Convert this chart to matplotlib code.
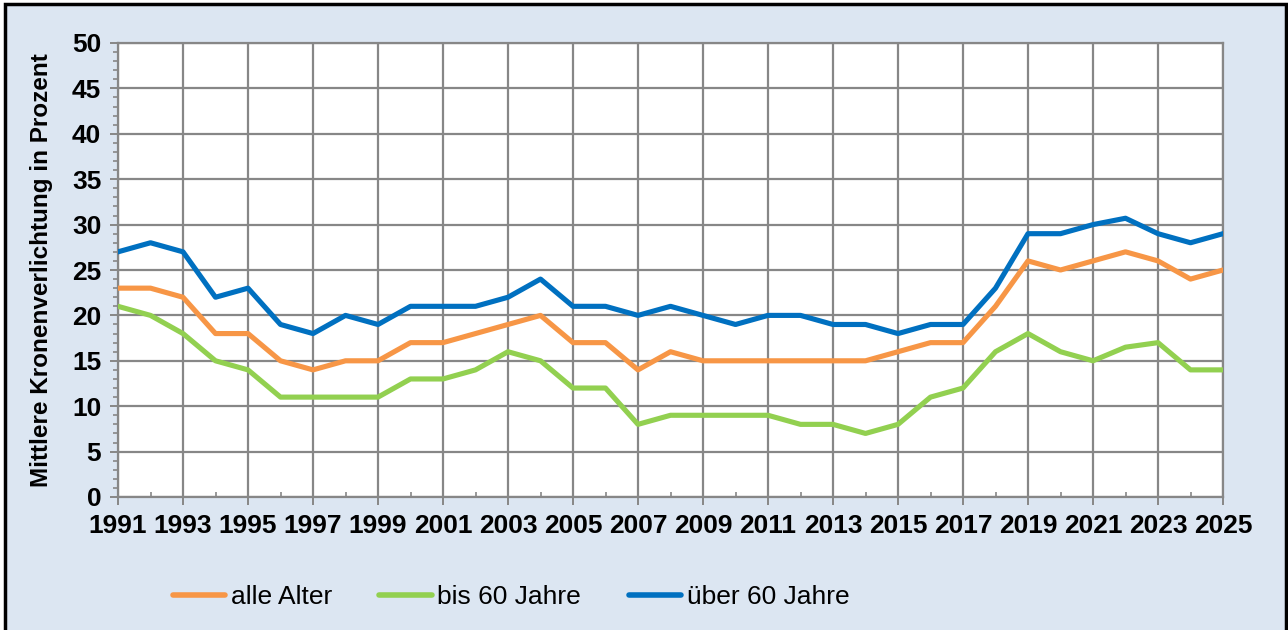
import matplotlib
matplotlib.use('Agg')
import matplotlib.pyplot as plt
from matplotlib.patches import Rectangle
from matplotlib.lines import Line2D
from matplotlib.ticker import MultipleLocator

plt.rcParams['font.family'] = ['Liberation Sans', 'DejaVu Sans']

years = list(range(1991, 2026))
alle_alter = [23, 23, 22, 18, 18, 15, 14, 15, 15, 17, 17, 18, 19, 20, 17, 17, 14, 16,
              15, 15, 15, 15, 15, 15, 16, 17, 17, 21, 26, 25, 26, 27, 26, 24, 25]
bis_60 = [21, 20, 18, 15, 14, 11, 11, 11, 11, 13, 13, 14, 16, 15, 12, 12, 8, 9,
          9, 9, 9, 8, 8, 7, 8, 11, 12, 16, 18, 16, 15, 16.5, 17, 14, 14]
ueber_60 = [27, 28, 27, 22, 23, 19, 18, 20, 19, 21, 21, 21, 22, 24, 21, 21, 20, 21,
            20, 19, 20, 20, 19, 19, 18, 19, 19, 23, 29, 29, 30, 30.7, 29, 28, 29]
labels = ['alle Alter', 'bis 60 Jahre', 'über 60 Jahre']
colors = ['#F79646', '#92D050', '#0070C0']

W, H = 1288, 630
fig = plt.figure(figsize=(W / 100, H / 100), dpi=100, facecolor='white')

# light blue chart area with black frame
fig.patches.append(Rectangle((5 / W, -0.05), 1281 / W, 1 - 4 / H + 0.05,
                             transform=fig.transFigure, facecolor='#DCE6F2',
                             edgecolor='black', linewidth=2.5, zorder=-1))

ax = fig.add_axes([118 / W, 1 - 497 / H, (1223 - 118) / W, (497 - 43) / H])
ax.set_zorder(2)
ax.set_facecolor('white')

for vals, lab, c in zip([alle_alter, bis_60, ueber_60], labels, colors):
    ax.plot(years, vals, color=c, linewidth=3.7, label=lab, solid_joinstyle='round', zorder=3)

ax.set_xlim(1991, 2025)
ax.set_ylim(0, 50)
ax.set_xticks(years[::2])
ax.set_xticks(years, minor=True)
ax.yaxis.set_major_locator(MultipleLocator(5))
ax.yaxis.set_minor_locator(MultipleLocator(1))
ax.grid(True, which='major', color='#878787', linewidth=1.6, zorder=1)
ax.set_axisbelow(True)
for s in ax.spines.values():
    s.set_color('#878787')
    s.set_linewidth(1.6)

ax.tick_params(axis='both', which='major', colors='#878787', labelcolor='black',
               width=1.4, length=6, direction='out')
ax.tick_params(axis='both', which='minor', colors='#878787', width=1.2, length=3.5)
ax.tick_params(axis='x', which='minor', direction='in')
ax.tick_params(axis='x', which='major', labelsize=19, pad=6)
ax.tick_params(axis='y', which='major', labelsize=19, pad=6)
for t in ax.get_xticklabels() + ax.get_yticklabels():
    t.set_fontweight('bold')

ax.set_ylabel('Mittlere Kronenverlichtung in Prozent', fontsize=17.5,
              fontweight='bold', labelpad=14)

handles = [Line2D([0], [0], color=c, linewidth=4, solid_capstyle='round') for c in colors]
fig.legend(handles, labels, loc='center', bbox_to_anchor=(511 / W, 1 - 597 / H),
           ncol=3, frameon=False, fontsize=19, handlelength=2.0,
           handletextpad=0.2, columnspacing=1.8)

fig.savefig('out.png', dpi=100, facecolor='white')
